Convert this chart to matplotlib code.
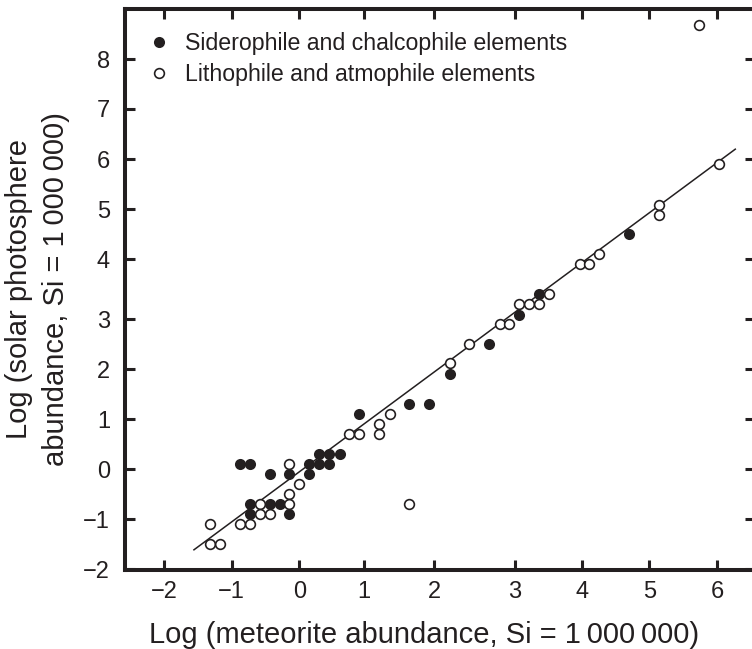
import numpy as np
import matplotlib.pyplot as plt

plt.rcParams['font.family'] = ['Liberation Sans', 'DejaVu Sans']

INK = '#231f20'

# siderophile and chalcophile elements (filled)
sid_x = [-0.88, -0.73, -0.73, -0.73, -0.43, -0.43, -0.29, -0.15, -0.15,
         0.15, 0.15, 0.31, 0.31, 0.46, 0.46, 0.62, 0.92, 1.64, 1.93,
         2.19, 2.68, 3.06, 3.36, 4.70]
sid_y = [0.10, 0.10, -0.70, -0.90, -0.10, -0.70, -0.70, -0.10, -0.90,
         0.10, -0.10, 0.30, 0.10, 0.30, 0.10, 0.30, 1.10, 1.30, 1.30,
         1.91, 2.50, 3.08, 3.42, 4.50]

# lithophile and atmophile elements (open)
lit_x = [-1.32, -1.32, -1.17, -0.88, -0.73, -0.58, -0.58, -0.43, -0.15,
         -0.15, -0.15, 0.00, 0.77, 0.92, 1.21, 1.21, 1.36, 1.64, 2.19,
         2.43, 2.81, 2.93, 3.06, 3.21, 3.36, 3.51, 3.96, 4.10, 4.25,
         5.15, 5.15, 5.74, 6.03]
lit_y = [-1.10, -1.50, -1.50, -1.10, -1.10, -0.70, -0.90, -0.90, 0.10,
         -0.50, -0.70, -0.30, 0.70, 0.70, 0.90, 0.70, 1.10, -0.70, 2.12,
         2.50, 2.90, 2.90, 3.25, 3.25, 3.25, 3.42, 3.92, 3.92, 4.10,
         5.09, 4.89, 8.70, 5.91]

# fitted line
fit_x = [-1.56, 6.27]
fit_y = [-1.61, 6.20]

x_ticks = list(range(-2, 7))
y_ticks = list(range(-2, 9))

# the printed axes are not evenly spaced, so map tick values to where they sit (px)
X_TICK_PX = [164.3, 231.7, 299.3, 364.3, 434.3, 515.0, 582.3, 649.3, 717.0]
Y_TICK_PX = [569.3, 519.3, 469.3, 419.3, 369.3, 319.3, 259.3, 209.0, 159.3, 108.7, 59.3]


def piecewise(vals, pos):
    vals = np.asarray(vals, float)
    pos = np.asarray(pos, float)

    def f(v, a, b):
        v = np.asarray(v, float)
        out = np.interp(v, a, b)
        s0 = (b[1] - b[0]) / (a[1] - a[0])
        s1 = (b[-1] - b[-2]) / (a[-1] - a[-2])
        out = np.where(v < a[0], b[0] + (v - a[0]) * s0, out)
        out = np.where(v > a[-1], b[-1] + (v - a[-1]) * s1, out)
        return out

    return (lambda v: f(v, vals, pos)), (lambda p: f(p, pos, vals))


W, H = 752, 649
fig = plt.figure(figsize=(W / 100, H / 100), dpi=100)
left, right, top, bottom = 124.7, 755.0, 9.0, 569.5
ax = fig.add_axes([left / W, (H - bottom) / H, (right - left) / W, (bottom - top) / H])

fx, ix = piecewise(x_ticks, X_TICK_PX)
fy, iy = piecewise(y_ticks, -np.asarray(Y_TICK_PX))
ax.set_xscale('function', functions=(fx, ix))
ax.set_yscale('function', functions=(fy, iy))

ax.plot(fit_x, fit_y, color=INK, lw=1.1, zorder=2)
ax.plot(sid_x, sid_y, 'o', ms=8, mfc=INK, mec=INK, mew=0, zorder=3,
        label='Siderophile and chalcophile elements')
ax.plot(lit_x, lit_y, 'o', ms=7, mfc='white', mec=INK, mew=1.2, zorder=4,
        label='Lithophile and atmophile elements')

ax.set_xlim(float(ix(left)), float(ix(right)))
ax.set_ylim(float(iy(-bottom)), float(iy(-top)))
ax.set_xticks(x_ticks)
ax.set_yticks(y_ticks)
ax.minorticks_off()

for s in ax.spines.values():
    s.set_linewidth(2.9)
    s.set_color(INK)
ax.tick_params(direction='in', length=7.2, width=2.2, color=INK,
               top=True, right=True, labelsize=17, labelcolor=INK)
ax.tick_params(axis='x', pad=8)
ax.tick_params(axis='y', pad=10.5)

ax.set_xlabel('Log (meteorite abundance, Si = 1\u2009000\u2009000)', fontsize=21, color=INK)
ax.xaxis.set_label_coords(0.4757, -0.092)
ax.set_ylabel('Log (solar photosphere\nabundance, Si = 1\u2009000\u2009000)', fontsize=21,
              color=INK, linespacing=1.42)
ax.yaxis.set_label_coords(-0.086, 0.5)

ax.legend(loc='upper left', bbox_to_anchor=(0.04, 0.9587), frameon=False,
          fontsize=16.7, handlelength=0.8, handletextpad=0.72, labelspacing=0.36,
          borderaxespad=0, borderpad=0, labelcolor=INK)

fig.savefig('out.png', dpi=100)
